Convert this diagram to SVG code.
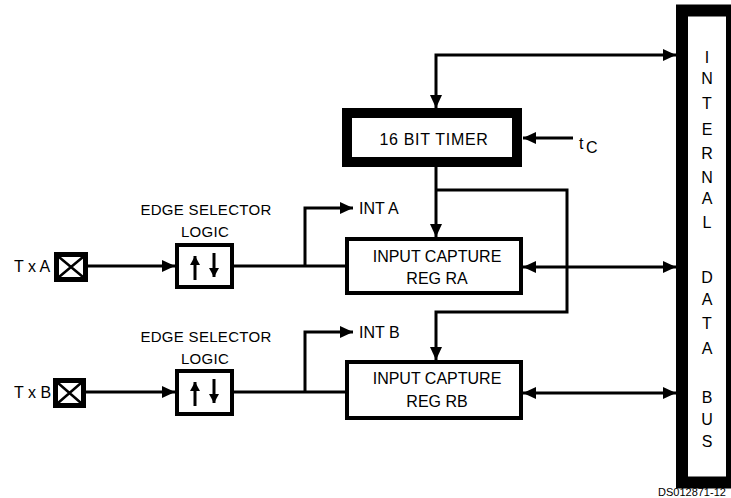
<svg xmlns="http://www.w3.org/2000/svg" width="731" height="498" viewBox="0 0 731 498">
<defs>
<style>
.t{font-family:"Liberation Sans",Arial,sans-serif;font-size:16px;fill:#000}
.e{font-family:"Liberation Sans",Arial,sans-serif;font-size:15px;fill:#000}
.c{stroke:#000;stroke-width:3;fill:none}
.a{marker-end:url(#ah)}
.b{marker-start:url(#ah);marker-end:url(#ah)}
.box{fill:#fff;stroke:#000;stroke-width:4}
</style>
<marker id="ah" markerUnits="userSpaceOnUse" markerWidth="13" markerHeight="12" refX="13" refY="6" orient="auto-start-reverse">
<path d="M0,0 L13,6 L0,12 z" fill="#000"/>
</marker>
<marker id="sh" markerUnits="userSpaceOnUse" markerWidth="9" markerHeight="10" refX="9" refY="5" orient="auto">
<path d="M0,0 L9,5 L0,10 z" fill="#000"/>
</marker>
</defs>
<rect width="731" height="498" fill="#fff"/>

<g id="connectors">
<path class="c b" d="M436,108 L436,55 L676,55"/>
<path class="c a" d="M573,138 L523,138"/>
<path class="c a" d="M436,167 L436,237"/>
<path class="c a" d="M436,190 L567,190 L567,312 L436,312 L436,360"/>
<path class="c b" d="M523,267 L676,267"/>
<path class="c b" d="M523,393 L676,393"/>
<path class="c a" d="M88,266 L175,266"/>
<path class="c" d="M234,266 L345,266"/>
<path class="c a" d="M305,266 L305,208 L353,208"/>
<path class="c a" d="M86,392 L175,392"/>
<path class="c" d="M234,392 L345,392"/>
<path class="c a" d="M305,392 L305,332 L353,332"/>
</g>

<g id="bus">
<rect x="682" y="10.5" width="50" height="472" fill="#fff" stroke="#000" stroke-width="12"/>
<g class="t" text-anchor="middle" font-size="17">
<text x="707" y="63">I</text>
<text x="707" y="84">N</text>
<text x="707" y="109">T</text>
<text x="707" y="135">E</text>
<text x="707" y="159">R</text>
<text x="707" y="183">N</text>
<text x="707" y="204">A</text>
<text x="707" y="228">L</text>
<text x="707" y="283">D</text>
<text x="707" y="305">A</text>
<text x="707" y="329">T</text>
<text x="707" y="354">A</text>
<text x="707" y="403">B</text>
<text x="707" y="425">U</text>
<text x="707" y="447">S</text>
</g>
</g>

<g id="timer">
<rect x="347" y="113" width="170" height="49" fill="#fff" stroke="#000" stroke-width="10"/>
<text class="t" x="434" y="145" text-anchor="middle" letter-spacing="0.7">16 BIT TIMER</text>
</g>

<g id="tc">
<text class="t" x="579" y="149">t</text>
<text class="t" x="586" y="153" font-size="12">C</text>
</g>

<g id="regRA">
<rect class="box" x="347" y="239" width="174" height="54"/>
<text class="t" x="437" y="262" text-anchor="middle">INPUT CAPTURE</text>
<text class="t" x="437" y="284" text-anchor="middle">REG RA</text>
</g>

<g id="regRB">
<rect class="box" x="347" y="362" width="174" height="56"/>
<text class="t" x="437" y="384" text-anchor="middle">INPUT CAPTURE</text>
<text class="t" x="437" y="407" text-anchor="middle">REG RB</text>
</g>

<g id="intA"><text class="t" x="359" y="214">INT A</text></g>
<g id="intB"><text class="t" x="359" y="338">INT B</text></g>

<g id="edgeA">
<text class="e" x="206" y="215" text-anchor="middle" letter-spacing="0.3">EDGE SELECTOR</text>
<text class="e" x="205" y="237" text-anchor="middle" letter-spacing="0.3">LOGIC</text>
<rect class="box" x="177" y="245" width="55" height="42"/>
<path class="c" d="M195,280 L195,256" marker-end="url(#sh)"/>
<path class="c" d="M214,253 L214,277" marker-end="url(#sh)"/>
</g>

<g id="edgeB">
<text class="e" x="206" y="342" text-anchor="middle" letter-spacing="0.3">EDGE SELECTOR</text>
<text class="e" x="205" y="364" text-anchor="middle" letter-spacing="0.3">LOGIC</text>
<rect class="box" x="177" y="371" width="55" height="43"/>
<path class="c" d="M195,406 L195,382" marker-end="url(#sh)"/>
<path class="c" d="M214,379 L214,403" marker-end="url(#sh)"/>
</g>

<g id="pinA">
<text class="t" x="14" y="272">T x A</text>
<rect x="56.5" y="254.5" width="29" height="25" fill="#fff" stroke="#000" stroke-width="5"/>
<path d="M59,257 L83,277 M83,257 L59,277" stroke="#000" stroke-width="2.5"/>
</g>

<g id="pinB">
<text class="t" x="14" y="398">T x B</text>
<rect x="55.5" y="380.5" width="28" height="25" fill="#fff" stroke="#000" stroke-width="5"/>
<path d="M58,383 L81,403 M81,383 L58,403" stroke="#000" stroke-width="2.5"/>
</g>

<text x="658" y="496" font-family="Liberation Sans,Arial,sans-serif" font-size="11">DS012871-12</text>
</svg>
